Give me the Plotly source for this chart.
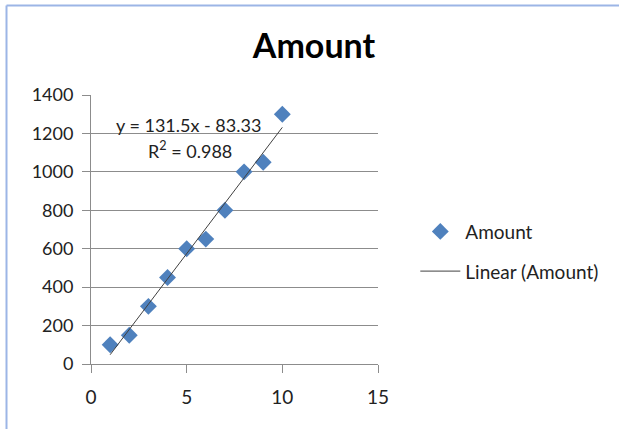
import numpy as np
import plotly.graph_objects as go

x_vals = [1, 2, 3, 4, 5, 6, 7, 8, 9, 10]
amounts = [100, 150, 300, 450, 600, 650, 800, 1000, 1050, 1300]
trend_slope = 131.5
trend_intercept = -83.33
trend_label = "y = 131.5x - 83.33"
r2_label = "R<sup>2</sup> = 0.988"
x_ticks = [0, 5, 10, 15]
y_ticks = [0, 200, 400, 600, 800, 1000, 1200, 1400]

FONT = "Lato, 'Open Sans', sans-serif"

trend_x = [min(x_vals), max(x_vals)]
trend_y = [trend_slope * v + trend_intercept for v in trend_x]

fig = go.Figure()
fig.add_trace(go.Scatter(
    x=x_vals, y=amounts, mode="markers", name="Amount", legendgroup="a",
    marker=dict(symbol="diamond", size=13, color="#4F81BD"),
))
fig.add_trace(go.Scatter(
    x=trend_x, y=trend_y, mode="lines", name="Linear (Amount)", legendgroup="b",
    line=dict(color="#404040", width=1),
))

fig.update_layout(
    width=619, height=429,
    margin=dict(l=91, r=241, t=95, b=65),
    paper_bgcolor="white", plot_bgcolor="white",
    font=dict(family=FONT, size=18, color="#222"),
    title=dict(text="<b>Amount</b>", x=314 / 619, xref="container", xanchor="center",
               y=1 - 46 / 429, yref="container", yanchor="middle",
               font=dict(family=FONT, size=34, color="black")),
    showlegend=True,
    legend=dict(x=1.13, y=0.418, xanchor="left", yanchor="middle",
                font=dict(family=FONT, size=19, color="#222"),
                tracegroupgap=12, itemwidth=40),
    xaxis=dict(range=[0, 15], tickvals=x_ticks, showgrid=False, zeroline=False,
               showline=True, linecolor="#8c8c8c", linewidth=1,
               ticks="outside", ticklen=8, tickcolor="#8c8c8c",
               ticklabelstandoff=8,
               tickfont=dict(size=19, color="#222")),
    yaxis=dict(range=[0, 1400], tickvals=y_ticks, showgrid=True,
               gridcolor="#8c8c8c", gridwidth=1, zeroline=False,
               showline=True, linecolor="#8c8c8c", linewidth=1,
               ticks="outside", ticklen=8, tickcolor="#8c8c8c",
               ticklabelstandoff=5,
               tickfont=dict(size=18, color="#222")),
    annotations=[
        dict(text=trend_label, x=5.1, y=1244, xref="x", yref="y",
             showarrow=False, font=dict(family=FONT, size=18, color="#222")),
        dict(text=r2_label, x=5.2, y=1114, xref="x", yref="y",
             showarrow=False, font=dict(family=FONT, size=18, color="#222")),
    ],
    shapes=[
        dict(type="line", xref="paper", yref="paper",
             x0=(6.5 - 91) / 287, x1=(700 - 91) / 287,
             y0=1 + (95 - 5.5) / 269, y1=1 + (95 - 5.5) / 269,
             line=dict(color="#9CB5E6", width=2)),
        dict(type="line", xref="paper", yref="paper",
             x0=(6.5 - 91) / 287, x1=(6.5 - 91) / 287,
             y0=1 + (95 - 5.5) / 269, y1=-(500 - 364) / 269,
             line=dict(color="#9CB5E6", width=2)),
    ],
)

fig.write_html("out.html", config={"displayModeBar": False},
               post_script="document.body.style.margin='0';")
